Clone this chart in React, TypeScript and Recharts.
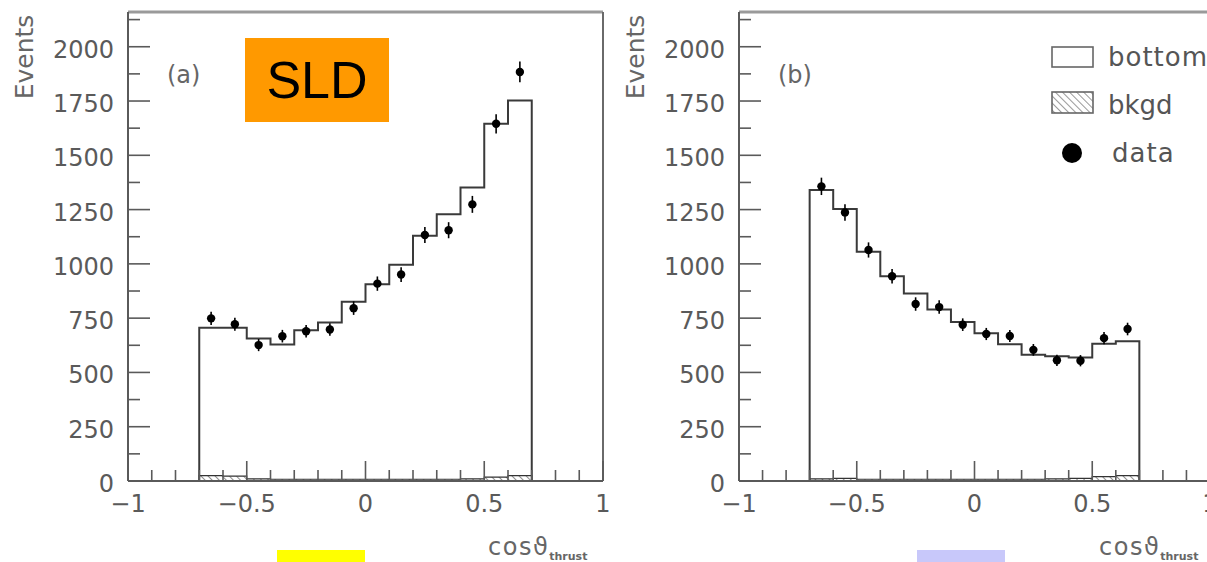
import React from "react";
import {
  ComposedChart,
  Line,
  Area,
  Scatter,
  ErrorBar,
  XAxis,
  YAxis,
  ReferenceLine,
} from "recharts";

// Histogram bin edges and centres on cos(theta_thrust).
const binEdges = [-0.7, -0.6, -0.5, -0.4, -0.3, -0.2, -0.1, 0, 0.1, 0.2, 0.3, 0.4, 0.5, 0.6, 0.7];
const binCenters = [-0.65, -0.55, -0.45, -0.35, -0.25, -0.15, -0.05, 0.05, 0.15, 0.25, 0.35, 0.45, 0.55, 0.65];

// Panel (a)
const bottomA = [706, 706, 656, 629, 694, 730, 826, 906, 996, 1130, 1228, 1352, 1645, 1752];
const bkgdA = [25, 22, 10, 8, 8, 8, 8, 8, 8, 8, 8, 10, 18, 25];
const dataA = [749, 722, 626, 667, 690, 698, 796, 909, 951, 1133, 1155, 1274, 1645, 1884];
const errA = [30, 30, 28, 29, 29, 29, 31, 33, 34, 37, 37, 39, 44, 48];

// Panel (b)
const bottomB = [1340, 1253, 1056, 943, 863, 790, 732, 681, 630, 581, 574, 569, 632, 644];
const bkgdB = [10, 12, 8, 8, 8, 8, 8, 8, 8, 8, 10, 12, 20, 25];
const dataB = [1357, 1237, 1064, 943, 815, 801, 720, 677, 668, 604, 556, 554, 658, 700];
const errB = [40, 38, 35, 33, 31, 31, 29, 28, 28, 27, 26, 26, 28, 29];

const xTicks = [-1, -0.9, -0.8, -0.7, -0.6, -0.5, -0.4, -0.3, -0.2, -0.1, 0, 0.1, 0.2, 0.3, 0.4, 0.5, 0.6, 0.7, 0.8, 0.9, 1];
const xMajor = [-1, -0.5, 0, 0.5, 1];
const xLabels = ["\u22121", "\u22120.5", "0", "0.5", "1"];
const yTicks = [0, 125, 250, 375, 500, 625, 750, 875, 1000, 1125, 1250, 1375, 1500, 1625, 1750, 1875, 2000, 2125];
const yMax = 2160;

const FONT = "'DejaVu Sans', sans-serif";
const GREY = "#5a5a5a";

// histogram as a closed step outline: up at the first edge, down at the last
function stepTable(values: number[]) {
  const rows = [{ x: binEdges[0], y: 0 }];
  values.forEach((v, i) => rows.push({ x: binEdges[i], y: v }));
  rows.push({ x: binEdges[binEdges.length - 1], y: values[values.length - 1] });
  rows.push({ x: binEdges[binEdges.length - 1], y: 0 });
  return rows;
}

function XTick(props: any) {
  const { x, y, payload } = props;
  const idx = xMajor.indexOf(payload.value);
  const major = idx >= 0;
  return (
    <g>
      <line x1={x} x2={x} y1={y} y2={y - (major ? 20 : 11)} stroke={GREY} strokeWidth={1.6} />
      {major && (
        <text x={x} y={y + 31} textAnchor="middle" fontSize={24} fontFamily={FONT} fill={GREY}>
          {xLabels[idx]}
        </text>
      )}
    </g>
  );
}

function YTick(props: any) {
  const { x, y, payload } = props;
  const major = payload.value % 250 === 0;
  return (
    <g>
      <line x1={x} x2={x + (major ? 22 : 12)} y1={y} y2={y} stroke={GREY} strokeWidth={1.6} />
      {major && (
        <text x={x - 14} y={y + 11} textAnchor="end" fontSize={24} fontFamily={FONT} fill={GREY}>
          {payload.value}
        </text>
      )}
    </g>
  );
}

function Dot(props: any) {
  const { cx, cy } = props;
  return <circle cx={cx} cy={cy} r={4.2} fill="#000" />;
}

function Panel({
  left,
  rightMargin,
  tag,
  bottom,
  bkgd,
  data,
  err,
  hatchId,
}: {
  left: number;
  rightMargin: number;
  tag: string;
  bottom: number[];
  bkgd: number[];
  data: number[];
  err: number[];
  hatchId: string;
}) {
  const bottomRows = stepTable(bottom);
  const bkgdRows = stepTable(bkgd);
  const points = binCenters.map((x, i) => ({ x, y: data[i], err: err[i] }));

  return (
    <div style={{ position: "absolute", left, top: 0, width: 615, height: 562 }}>
      <ComposedChart
        width={615}
        height={562}
        data={bkgdRows}
        margin={{ top: 12, right: rightMargin, bottom: 0, left: 0 }}
      >
        <defs>
          <pattern id={hatchId} width={5} height={5} patternUnits="userSpaceOnUse" patternTransform="rotate(-45)">
            <line x1={0} y1={0} x2={0} y2={5} stroke="#444" strokeWidth={1.2} />
          </pattern>
        </defs>
        <XAxis
          type="number"
          dataKey="x"
          domain={[-1, 1]}
          ticks={xTicks}
          interval={0}
          height={81}
          tickSize={0}
          tickMargin={0}
          tickLine={false}
          axisLine={{ stroke: GREY, strokeWidth: 2 }}
          tick={<XTick />}
          allowDataOverflow
        />
        <YAxis
          type="number"
          dataKey="y"
          domain={[0, yMax]}
          ticks={yTicks}
          interval={0}
          width={128}
          tickSize={0}
          tickMargin={0}
          tickLine={false}
          axisLine={{ stroke: GREY, strokeWidth: 2 }}
          tick={<YTick />}
          allowDataOverflow
        />
        <ReferenceLine y={yMax} stroke="#9a9a9a" strokeWidth={3} />
        <ReferenceLine x={1} stroke="#6a6a6a" strokeWidth={2} />
        <Area
          type="stepAfter"
          dataKey="y"
          stroke="#333"
          strokeWidth={1.2}
          fill={`url(#${hatchId})`}
          fillOpacity={1}
          dot={false}
          activeDot={false}
          isAnimationActive={false}
        />
        <Line
          data={bottomRows}
          type="stepAfter"
          dataKey="y"
          stroke="#3a3a3a"
          strokeWidth={2}
          dot={false}
          activeDot={false}
          isAnimationActive={false}
        />
        <Scatter data={points} dataKey="y" shape={<Dot />} isAnimationActive={false}>
          <ErrorBar dataKey="err" direction="y" width={0} stroke="#000" strokeWidth={1.6} />
        </Scatter>
      </ComposedChart>
      <svg
        width={615}
        height={562}
        style={{ position: "absolute", left: 0, top: 0, pointerEvents: "none" }}
      >
        <text
          transform="translate(33,57) rotate(-90)"
          textAnchor="middle"
          fontSize={25}
          fontFamily={FONT}
          fill="#666"
        >
          Events
        </text>
        <text x={167} y={83} fontSize={24} fontFamily={FONT} fill="#666">
          {tag}
        </text>
        <text x={488} y={555} fontSize={24} fontFamily={FONT} fill="#666" letterSpacing={1.5}>
          cos{"\u03D1"}
          <tspan fontSize={11} fontWeight="bold" dy={5} letterSpacing={0}>
            thrust
          </tspan>
        </text>
      </svg>
    </div>
  );
}

function LegendB() {
  return (
    <svg width={160} height={140} style={{ position: "absolute", left: 1047, top: 35 }}>
      <defs>
        <pattern id="hatchLegend" width={5} height={5} patternUnits="userSpaceOnUse" patternTransform="rotate(-45)">
          <line x1={0} y1={0} x2={0} y2={5} stroke="#555" strokeWidth={1.2} />
        </pattern>
      </defs>
      <rect x={5} y={12} width={41} height={20} fill="#fff" stroke="#666" strokeWidth={1.6} />
      <text x={61} y={31} fontSize={26} fontFamily={FONT} fill="#555" letterSpacing={1}>
        bottom
      </text>
      <rect x={5} y={57} width={41} height={21} fill="url(#hatchLegend)" stroke="#666" strokeWidth={1.6} />
      <text x={61} y={79} fontSize={26} fontFamily={FONT} fill="#555">
        bkgd
      </text>
      <circle cx={25} cy={118} r={10} fill="#000" />
      <text x={65} y={127} fontSize={26} fontFamily={FONT} fill="#555" letterSpacing={1}>
        data
      </text>
    </svg>
  );
}

export default function App() {
  return (
    <div
      style={{
        position: "absolute",
        left: 0,
        top: 0,
        width: 1207,
        height: 562,
        overflow: "hidden",
        background: "#fff",
      }}
    >
      <Panel left={0} rightMargin={12} tag="(a)" bottom={bottomA} bkgd={bkgdA} data={dataA} err={errA} hatchId="hatchA" />
      <Panel left={611} rightMargin={16} tag="(b)" bottom={bottomB} bkgd={bkgdB} data={dataB} err={errB} hatchId="hatchB" />
      <LegendB />
      <div
        style={{
          position: "absolute",
          left: 245,
          top: 38,
          width: 144,
          height: 84,
          background: "#ff9900",
          display: "flex",
          alignItems: "center",
          justifyContent: "center",
          fontFamily: "'Liberation Sans', Arial, sans-serif",
          fontSize: 52,
          color: "#000",
        }}
      >
        SLD
      </div>
      <div style={{ position: "absolute", left: 277, top: 550, width: 88, height: 12, background: "#ffff00" }} />
      <div style={{ position: "absolute", left: 917, top: 550, width: 88, height: 12, background: "#c8c8fa" }} />
    </div>
  );
}
